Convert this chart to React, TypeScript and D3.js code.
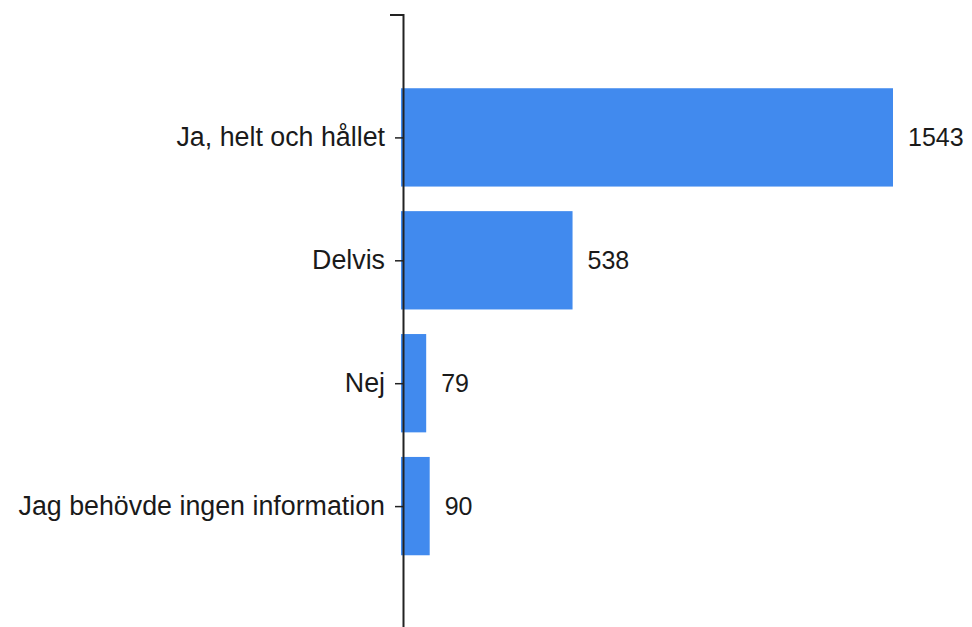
import React, { useRef, useEffect } from 'react'
import * as d3 from 'd3'

const categories = ['Ja, helt och hållet', 'Delvis', 'Nej', 'Jag behövde ingen information']
const counts = [1543, 538, 79, 90]

const App = () => {
    const chartRef = useRef<SVGSVGElement>(null)

    useEffect(() => {
        const svg = d3.select(chartRef.current)
        svg.selectAll('*').remove()

        const font = "Arial, 'Liberation Sans', sans-serif"
        const data = categories.map((c, i) => ({ name: c, value: counts[i] }))

        const y = d3.scalePoint<string>()
            .domain(categories)
            .range([14.5, 629])
            .padding(1)
        const barH = y.step() * 0.8

        const x = d3.scaleLinear()
            .domain([0, d3.max(counts) as number])
            .range([401, 893])

        svg.append('g')
            .selectAll('rect')
            .data(data)
            .enter()
            .append('rect')
            .attr('x', x(0))
            .attr('y', d => (y(d.name) as number) - barH / 2)
            .attr('width', d => x(d.value) - x(0))
            .attr('height', barH)
            .attr('fill', '#418aee')

        svg.append('g')
            .selectAll('text')
            .data(data)
            .enter()
            .append('text')
            .attr('x', d => x(d.value) + 15)
            .attr('y', d => y(d.name) as number)
            .attr('dy', '0.35em')
            .attr('font-family', font)
            .attr('font-size', 25)
            .attr('fill', '#1a1a1a')
            .text(d => d.value)

        const axis = svg.append('g')
            .attr('transform', 'translate(403, 0)')
            .call(d3.axisLeft(y).tickSizeInner(8).tickSizeOuter(13).tickPadding(10))

        axis.select('.domain').attr('stroke', '#222').attr('stroke-width', 2)
        axis.selectAll('.tick line').attr('stroke', '#222').attr('stroke-width', 1.5)
        axis.selectAll('.tick text')
            .attr('font-family', font)
            .attr('font-size', 26.8)
            .attr('fill', '#1a1a1a')
    }, [])

    return (
        <svg
            ref={chartRef}
            width={972}
            height={627}
            style={{ position: 'absolute', left: 0, top: 0, display: 'block', background: '#fff' }}
        />
    )
}

export default App
